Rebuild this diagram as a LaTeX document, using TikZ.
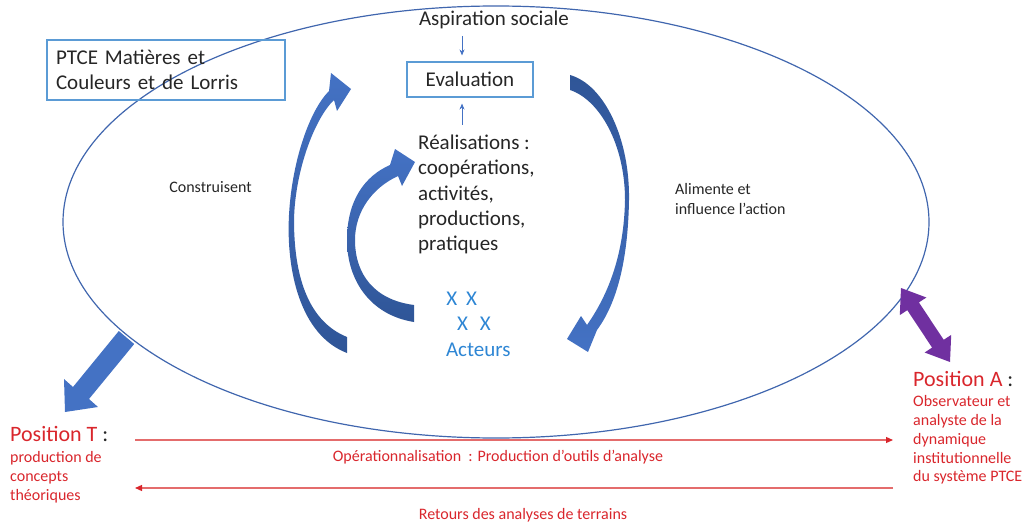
\documentclass[tikz,border=0pt]{standalone}
\usepackage{fontspec}
\setmainfont{Carlito}
\usetikzlibrary{arrows.meta}

\definecolor{ellipseblue}{HTML}{4066AE}
\definecolor{boxblue}{HTML}{5B9BD5}
\definecolor{arrowlight}{HTML}{4472C4}
\definecolor{arrowdark}{HTML}{2F5597}
\definecolor{acteurblue}{HTML}{2E86D4}
\definecolor{posred}{HTML}{D9262C}
\definecolor{linered}{HTML}{E46C6C}
\definecolor{txtgray}{HTML}{262626}
\definecolor{arrowpurple}{HTML}{7030A0}

\tikzset{
  bigtext/.style={font=\fontsize{21}{25.3}\selectfont, text=txtgray, inner sep=0pt},
  smalltext/.style={font=\fontsize{16}{20}\selectfont, text=txtgray, inner sep=0pt},
  redtext/.style={font=\fontsize{16}{18.8}\selectfont, text=posred, inner sep=0pt},
  postitle/.style={font=\fontsize{22}{26}\selectfont, text=posred, inner sep=0pt},
  bluebox/.style={draw=boxblue, line width=1.1pt},
  thinarrow/.style={draw=arrowlight, line width=0.8pt, -{Stealth[length=6pt,width=5pt]}},
  redarrow/.style={draw=linered, line width=1.2pt, -{Triangle[length=7pt,width=6pt,color=posred]}},
}

\begin{document}
\begin{tikzpicture}[x=1pt,y=-1pt]
  \useasboundingbox (0,0) rectangle (1030,524);

  % 大椭圆
  \draw[ellipseblue, line width=1.2pt] (496,222) ellipse [x radius=433, y radius=216];

  % 文字节点
  \node[bigtext, bluebox, minimum width=238pt, minimum height=60pt,
        text width=220pt, align=left, inner xsep=9pt] (ptce) at (166,70)
        {PTCE Matières et\\Couleurs et de Lorris};
  \node[bigtext] (asp) at (494,20) {Aspiration sociale};
  \node[bigtext, bluebox, minimum width=126pt,
        minimum height=35pt] (eval) at (470,79.5) {Evaluation};
  \node[bigtext, align=left, anchor=west] (real) at (418,194.5)
        {Réalisations :\\coopérations,\\activités,\\productions,\\pratiques};
  \node[bigtext, text=acteurblue] (xa) at (461.7,299) {X\hspace{9pt}X};
  \node[bigtext, text=acteurblue] (xb) at (474,324) {X\hspace{12pt}X};
  \node[bigtext, text=acteurblue] (acteurs) at (478.3,350) {Acteurs};
  \node[smalltext] (constr) at (210.5,187) {Construisent};
  \node[smalltext, align=left, anchor=west] (alim) at (675,199)
        {Alimente et\\influence l’action};

  % 小箭头
  \coordinate (aspfoot) at (462,36);
  \coordinate (realtop) at (462,125);
  \draw[thinarrow] (aspfoot) -- ([yshift=6pt]aspfoot |- eval.north);
  \draw[thinarrow] (realtop) -- ([yshift=-6pt]realtop |- eval.south);

  % 弯箭头 (外左)
  \shade[top color=arrowlight, bottom color=arrowdark]
    (347,353) .. controls (300,335) and (286,270) .. (289,215)
    .. controls (292,160) and (310,110) .. (329,91)
    -- (331,73) -- (351,89) -- (337,111) -- (334,100)
    .. controls (315,118) and (295,170) .. (294,220)
    .. controls (294,280) and (310,322) .. (347,337) -- cycle;
  % 弯箭头 (内左)
  \shade[top color=arrowlight, bottom color=arrowdark]
    (414,322) .. controls (370,315) and (347,280) .. (347,240)
    .. controls (347,200) and (365,176) .. (390,165)
    -- (395,149) -- (415,162) -- (402,186) -- (398,176)
    .. controls (372,188) and (355,212) .. (355,240)
    .. controls (355,275) and (375,300) .. (414,305) -- cycle;
  % 弯箭头 (右)
  \shade[top color=arrowdark, bottom color=arrowlight]
    (570,75) .. controls (605,85) and (630,140) .. (629,200)
    .. controls (628,260) and (617,303) .. (597,330)
    -- (588,352) -- (567,339) -- (581,316) -- (587,325)
    .. controls (608,295) and (624,255) .. (625,200)
    .. controls (625,145) and (600,100) .. (570,90) -- cycle;

  % 粗箭头 (左下)
  \fill[arrowlight] (118.8,331) -- (73,387) -- (64,379) -- (65,412)
    -- (98,407) -- (89,399) -- (134.2,344) -- cycle;
  % 双向箭头
  \fill[arrowpurple] (901,288) -- (926.4,297.5) -- (918.9,302.4) -- (943.7,339.8)
    -- (951.2,334.9) -- (950,362) -- (924.6,352.5) -- (932.1,347.6)
    -- (907.3,310.2) -- (899.8,315.1) -- cycle;

  % 位置
  \node[postitle, anchor=west] (posT) at (10,434) {Position T\textcolor{txtgray}{\ :}};
  \node[redtext, align=left, anchor=west] (posTtxt) at (10,477)
        {production de\\concepts\\théoriques};
  \node[postitle, anchor=west] (posA) at (913,379) {Position A\textcolor{txtgray}{\ :}};
  \node[redtext, align=left, anchor=west] (posAtxt) at (913,440)
        {Observateur et\\analyste de la\\dynamique\\institutionnelle\\du système PTCE};

  % 红色箭头
  \coordinate (opstart) at (135,440);
  \coordinate (opend) at (893,440);
  \coordinate (retstart) at (893,488);
  \coordinate (retend) at (135,488);
  \draw[redarrow] (opstart) -- (opend);
  \draw[redarrow] (retstart) -- (retend);
  \node[redtext] (optxt) at (498,457)
        {Opérationnalisation\ \ : Production d’outils d’analyse};
  \node[redtext] (rettxt) at (523,515) {Retours des analyses de terrains};
\end{tikzpicture}
\end{document}
